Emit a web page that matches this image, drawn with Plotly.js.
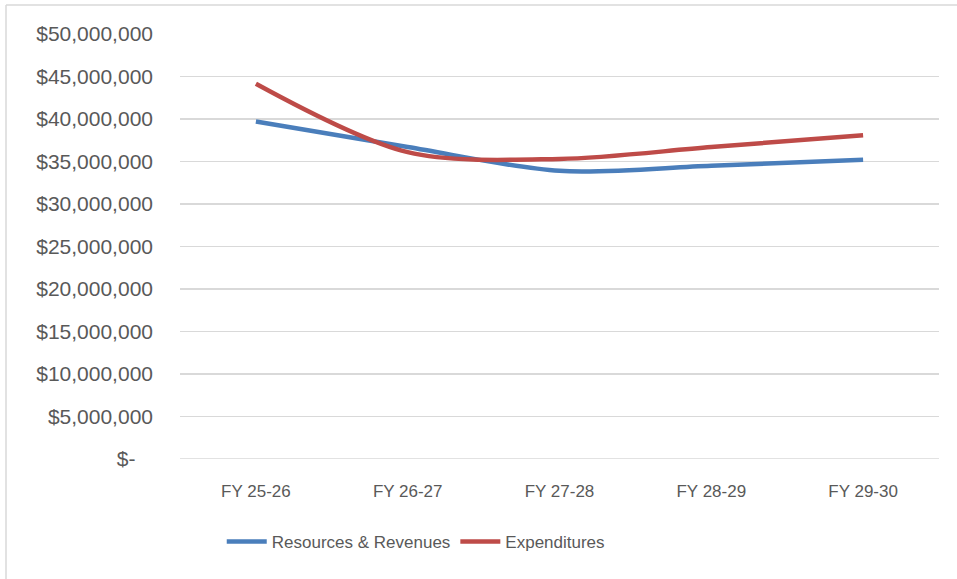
<!DOCTYPE html>
<html>
<head>
<meta charset="utf-8">
<script src="https://cdn.plot.ly/plotly-3.0.1.min.js"></script>
<style>
html,body{margin:0;padding:0;background:#fff;}
#chart{width:957px;height:579px;}
</style>
</head>
<body>
<div id="chart"></div>
<script>
var categories = ["FY 25-26", "FY 26-27", "FY 27-28", "FY 28-29", "FY 29-30"];
var resourcesRevenues = [39700000, 36700000, 33900000, 34500000, 35200000];
var expenditures = [44150000, 36100000, 35300000, 36700000, 38100000];
var yTickVals = [0, 5000000, 10000000, 15000000, 20000000, 25000000, 30000000, 35000000, 40000000, 45000000, 50000000];
var yTickText = ["$-   ", "$5,000,000", "$10,000,000", "$15,000,000", "$20,000,000", "$25,000,000", "$30,000,000", "$35,000,000", "$40,000,000", "$45,000,000", "$50,000,000"];

var sans = "'Liberation Sans', Arial, sans-serif";

var traces = [
  {
    x: categories, y: resourcesRevenues, name: "Resources & Revenues",
    type: "scatter", mode: "lines",
    line: {color: "#4a7ebb", width: 4.5, shape: "spline", smoothing: 0.9}
  },
  {
    x: categories, y: expenditures, name: "Expenditures",
    type: "scatter", mode: "lines",
    line: {color: "#be4b48", width: 4.5, shape: "spline", smoothing: 0.9}
  }
];

var layout = {
  width: 957, height: 579,
  margin: {l: 180, r: 18, t: 34, b: 120},
  paper_bgcolor: "#ffffff", plot_bgcolor: "#ffffff",
  showlegend: true,
  legend: {
    orientation: "h", x: 0.055, xanchor: "left", y: -0.195, yanchor: "middle",
    font: {family: sans, size: 17, color: "#595959"},
    itemwidth: 40, tracegroupgap: 0
  },
  xaxis: {
    type: "category", range: [-0.5, 4.5],
    showgrid: false, zeroline: false, showline: false, ticks: "",
    tickfont: {family: sans, size: 17, color: "#595959"},
    ticklabelstandoff: 20
  },
  yaxis: {
    range: [0, 50000000], tickmode: "array", tickvals: yTickVals, ticktext: yTickText,
    showgrid: true, gridcolor: "#d9d9d9", gridwidth: 1.5,
    zeroline: false, showline: false, ticks: "",
    tickfont: {family: sans, size: 21, color: "#595959"},
    ticklabelstandoff: 26
  },
  shapes: [
    {type: "line", xref: "paper", yref: "paper", x0: (6 - 180) / 759, x1: 1.1, y0: (459 - 5) / 425, y1: (459 - 5) / 425, line: {color: "#d9d9d9", width: 1.5}},
    {type: "line", xref: "paper", yref: "paper", x0: (6 - 180) / 759, x1: (6 - 180) / 759, y0: (459 - 5) / 425, y1: -0.4, line: {color: "#d9d9d9", width: 1.5}},
    {type: "line", xref: "paper", yref: "y", x0: 0, x1: 1, y0: 0, y1: 0, layer: "below", line: {color: "#d9d9d9", width: 1.5}}
  ]
};

Plotly.newPlot("chart", traces, layout, {staticPlot: true, displayModeBar: false});
</script>
</body>
</html>
